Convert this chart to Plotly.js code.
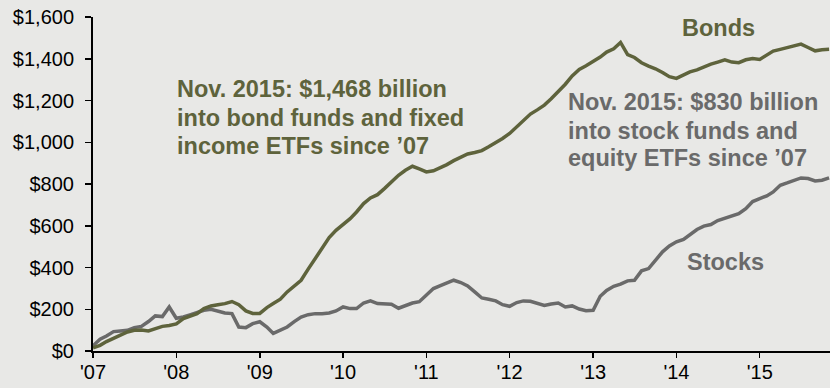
<!DOCTYPE html>
<html>
<head>
<meta charset="utf-8">
<script src="https://cdn.plot.ly/plotly-3.0.1.min.js"></script>
<style>html,body{margin:0;padding:0;background:#e8e8e6;}</style>
</head>
<body>
<div id="chart" style="width:830px;height:388px;"></div>
<script>
// Monthly cumulative flows, Jan 2007 – Nov 2015 (USD billions)
const startYear = 2007;
const bonds = [
  15, 27, 45, 61, 78, 91, 99, 101, 96, 107, 118, 122,
  130, 155, 168, 179, 203, 216, 222, 227, 237, 222, 192, 180,
  180, 208, 227, 248, 283, 310, 339, 392, 443, 499, 543, 578,
  607, 634, 666, 706, 733, 749, 778, 810, 842, 866, 885, 872,
  858, 863, 876, 893, 912, 930, 944, 951, 960, 978, 996, 1018,
  1042, 1075, 1107, 1135, 1155, 1178, 1208, 1242, 1278, 1318, 1349, 1366,
  1386, 1408, 1432, 1448, 1478, 1420, 1406, 1381, 1365, 1352, 1334, 1314,
  1306, 1322, 1337, 1347, 1362, 1374, 1384, 1395, 1384, 1381, 1395, 1401,
  1397, 1416, 1437, 1445, 1454, 1464, 1470, 1454, 1438, 1443, 1445
];
const stocks = [
  25, 56, 72, 93, 96, 99, 112, 118, 141, 168, 165, 211,
  157, 163, 173, 184, 195, 200, 192, 182, 179, 115, 112, 131,
  140, 115, 84, 98, 115, 141, 163, 174, 179, 179, 182, 192,
  211, 203, 203, 230, 240, 227, 227, 224, 205, 217, 230, 236,
  270, 299, 312, 326, 339, 328, 312, 283, 254, 248, 240, 222,
  214, 232, 240, 238, 229, 218, 225, 230, 211, 216, 201, 193,
  195, 262, 290, 310, 320, 336, 339, 384, 395, 435, 475, 503,
  523, 535, 558, 582, 598, 606, 625, 637, 646, 658, 682, 716,
  730, 743, 762, 794, 805, 815, 829, 826, 815, 818, 829
];
const tickYears = [2007, 2008, 2009, 2010, 2011, 2012, 2013, 2014, 2015];
const tickLabels = ["'07", "'08", "'09", "'10", "'11", "'12", "'13", "'14", "'15"];
const yTicks = [0, 200, 400, 600, 800, 1000, 1200, 1400, 1600];
const yTickLabels = ["$0", "$200", "$400", "$600", "$800", "$1,000", "$1,200", "$1,400", "$1,600"];

function monthDate(i) {
  const y = startYear + Math.floor(i / 12);
  const m = (i % 12) + 1;
  return y + '-' + (m < 10 ? '0' + m : m) + '-01';
}
const dates = bonds.map((_, i) => monthDate(i));

const olive = '#5e633c';
const gray = '#6a6a6a';
const W = 830, H = 388, L = 93, R = 0, T = 17, B = 37;
const pw = W - L - R, ph = H - T - B;
const px = x => (x - L) / pw;
const py = y => (H - B - y) / ph;

const FONT = 'Liberation Sans, Arial, sans-serif';
function ann(text, x, y, color, xanchor) {
  return {
    text: '<b>' + text + '</b>', xref: 'paper', yref: 'paper',
    x: px(x), y: py(y), xanchor: xanchor, yanchor: 'middle',
    showarrow: false, font: {family: FONT, size: 23.5, color: color}
  };
}

const data = [
  {x: dates, y: stocks, type: 'scatter', mode: 'lines', name: 'Stocks',
   line: {color: gray, width: 3.5}},
  {x: dates, y: bonds, type: 'scatter', mode: 'lines', name: 'Bonds',
   line: {color: olive, width: 3.5}}
];

const layout = {
  width: W, height: H,
  margin: {l: L, r: R, t: T, b: B, pad: 0},
  paper_bgcolor: '#e8e8e6', plot_bgcolor: '#e8e8e6',
  showlegend: false,
  font: {family: FONT, size: 20, color: '#000'},
  xaxis: {
    type: 'date', range: ['2007-01-01', '2015-11-05'],
    tickvals: tickYears.map(y => y + '-01-01'), ticktext: tickLabels,
    ticks: 'outside', ticklen: 5, tickwidth: 1.5, tickcolor: '#000',
    ticklabelstandoff: -3,
    showline: true, linecolor: '#000', linewidth: 2,
    showgrid: false, zeroline: false, fixedrange: true,
    tickfont: {family: FONT, size: 20, color: '#000'}
  },
  yaxis: {
    range: [0, 1600], tickvals: yTicks, ticktext: yTickLabels,
    ticks: 'outside', ticklen: 6, tickwidth: 1.5, tickcolor: '#000',
    ticklabelstandoff: 7,
    showline: true, linecolor: '#000', linewidth: 2,
    showgrid: false, zeroline: false, fixedrange: true,
    tickfont: {family: FONT, size: 20, color: '#000'}
  },
  annotations: [
    ann('Nov. 2015: $1,468 billion', 175, 88.7, olive, 'left'),
    ann('into bond funds and fixed', 175, 117.7, olive, 'left'),
    ann('income ETFs since \u201907', 175, 145.7, olive, 'left'),
    ann('Nov. 2015: $830 billion', 566, 102.4, gray, 'left'),
    ann('into stock funds and', 566, 131, gray, 'left'),
    ann('equity ETFs since \u201907', 566, 158.4, gray, 'left'),
    ann('Bonds', 718, 27.7, olive, 'center'),
    ann('Stocks', 725, 262.4, gray, 'center')
  ]
};

Plotly.newPlot('chart', data, layout, {displayModeBar: false, staticPlot: true});
</script>
</body>
</html>
